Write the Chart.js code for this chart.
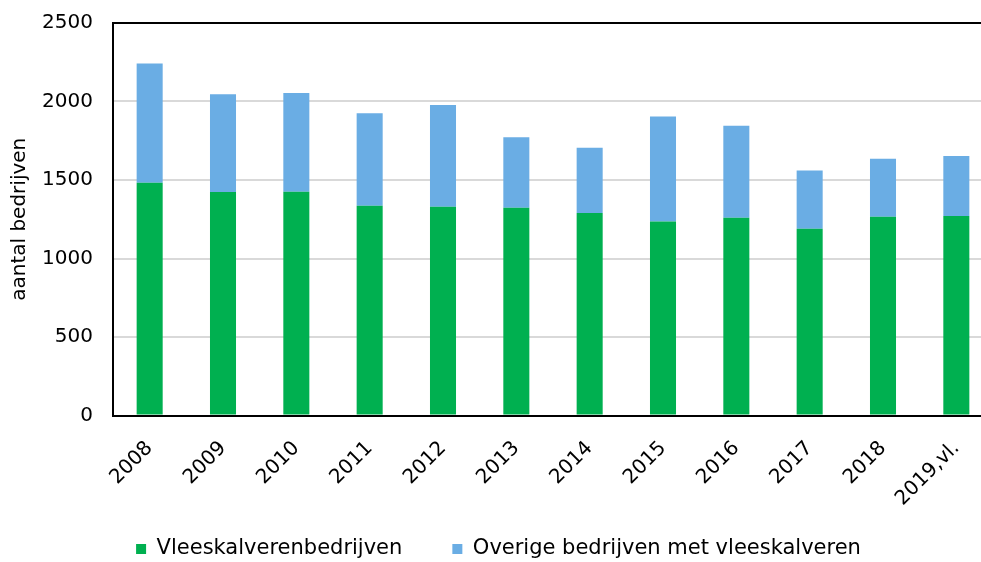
<!DOCTYPE html>
<html>
<head>
<meta charset="utf-8">
<script src="https://cdn.jsdelivr.net/npm/chart.js@4"></script>
<style>
  html, body { margin: 0; padding: 0; background: #fff; overflow: hidden; }
  #wrap { width: 1000px; height: 562px; }
</style>
</head>
<body>
<div id="wrap"><canvas id="chart" width="1000" height="562"></canvas></div>
<script>
// Aantal bedrijven met vleeskalveren, per jaar
const years = ['2008', '2009', '2010', '2011', '2012', '2013', '2014', '2015', '2016', '2017', '2018', '2019,vl.'];
const vleeskalverenbedrijven = [1482, 1423, 1425, 1336, 1330, 1323, 1290, 1235, 1260, 1190, 1266, 1271];
const overigeBedrijven = [760, 623, 629, 589, 648, 450, 416, 669, 585, 370, 370, 382];
const yMax = 2500;
const yStep = 500;

const ctx = document.getElementById('chart').getContext('2d');
const font = { family: 'DejaVu Sans, Verdana, sans-serif', size: 20 };

// legend sits a bit higher than the layout would put it
const legendShift = {
    id: 'legendShift',
    afterLayout(chart) {
        chart.legend.top -= 19;
        chart.legend.bottom -= 19;
    }
};

const chart = new Chart(ctx, {
    type: 'bar',
    data: {
        labels: years,
        datasets: [
            {
                label: 'Vleeskalverenbedrijven',
                data: vleeskalverenbedrijven,
                backgroundColor: '#00B050',
            },
            {
                label: 'Overige bedrijven met vleeskalveren',
                data: overigeBedrijven,
                backgroundColor: '#6AADE4',
            }
        ]
    },
    options: {
        responsive: false,
        animation: false,
        devicePixelRatio: 1,
        barPercentage: 0.355,
        categoryPercentage: 1,
        layout: { padding: { top: 23, right: 7, left: 4, bottom: -26.5 } },
        plugins: {
            legend: {
                position: 'bottom',
                labels: {
                    font: { family: font.family, size: 21 },
                    color: '#000',
                    boxWidth: 10,
                    boxHeight: 10,
                    padding: 50
                }
            },
            tooltip: { enabled: false }
        },
        scales: {
            x: {
                stacked: true,
                grid: { display: false },
                border: { color: '#000', width: 2 },
                ticks: {
                    font: font,
                    color: '#000',
                    minRotation: 45,
                    maxRotation: 45,
                    padding: 13
                },
                afterFit: scale => { scale.height = 92; }
            },
            y: {
                stacked: true,
                min: 0,
                max: yMax,
                ticks: {
                    stepSize: yStep,
                    font: font,
                    color: '#000',
                    padding: 20,
                    callback: v => String(v)
                },
                grid: {
                    drawTicks: false,
                    lineWidth: 2,
                    color: c => (c.tick && c.tick.value === yMax) ? '#000' : '#D9D9D9'
                },
                border: { color: '#000', width: 2 },
                title: {
                    display: true,
                    text: 'aantal bedrijven',
                    font: font,
                    color: '#000',
                    padding: { top: 4, bottom: 4 }
                },
                afterFit: scale => {
                    scale.width = 109;
                    scale.paddingTop = 12;
                    scale.paddingBottom = 12;
                }
            }
        }
    },
    plugins: [legendShift]
});
</script>
</body>
</html>
